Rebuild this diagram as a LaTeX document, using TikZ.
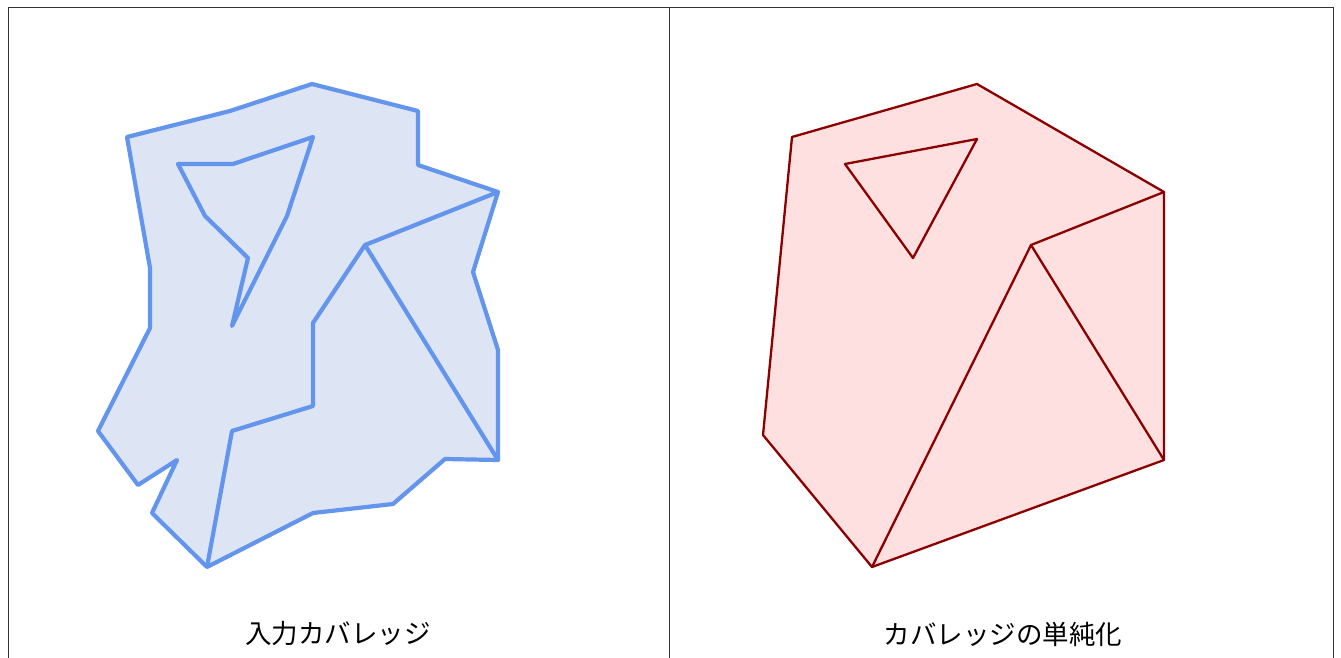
\documentclass[tikz,border=0pt]{standalone}
\usepackage{fontspec}
\newfontfamily\cjk{Noto Sans CJK JP}
\usetikzlibrary{positioning}
\definecolor{EdgeBlue}{HTML}{6495ED}
\definecolor{FillBlue}{HTML}{DDE5F5}
\definecolor{EdgeRed}{HTML}{8B0000}
\definecolor{FillRed}{HTML}{FFE0E0}
\definecolor{FrameGray}{HTML}{333333}

\begin{document}
\begin{tikzpicture}[
    x=1pt, y=-1pt,
    frame/.style={draw=FrameGray, line width=1pt},
    inputcov/.style={draw=EdgeBlue, line width=4.2pt, line join=round},
    inputfill/.style={fill=FillBlue},
    simplecov/.style={draw=EdgeRed, line width=2.3pt, line join=round},
    simplefill/.style={fill=FillRed},
    caption/.style={font=\cjk\fontsize{26.5}{30}\selectfont, inner sep=0pt}
  ]
    \useasboundingbox (0,0) rectangle (1341,658);

    % panel frame
    \draw[frame] (8,658) -- (8,8) -- (1333,8) -- (1333,658);
    \draw[frame] (669,8) -- (669,658);

    % input coverage
    \fill[inputfill]
      (127,137) -- (230,111) -- (312,84) -- (418,111) -- (418,165)
      -- (498,192) -- (473,272) -- (498,350) -- (498,460) -- (445,459)
      -- (393,504) -- (313,513) -- (207,567) -- (152,513) -- (177,460)
      -- (138,485) -- (98,431) -- (150,328) -- (150,268) -- cycle;
    \draw[inputcov]
      (127,137) -- (230,111) -- (312,84) -- (418,111) -- (418,165)
      -- (498,192) -- (473,272) -- (498,350) -- (498,460) -- (445,459)
      -- (393,504) -- (313,513) -- (207,567) -- (152,513) -- (177,460)
      -- (138,485) -- (98,431) -- (150,328) -- (150,268) -- cycle;
    \draw[inputcov]
      (178,164) -- (233,164) -- (313,137) -- (287,216) -- (232,326)
      -- (248,258) -- (205,216) -- cycle;
    \draw[inputcov]
      (498,192) -- (365,245) -- (313,323) -- (313,406) -- (232,431) -- (207,567);
    \draw[inputcov] (365,245) -- (498,460);

    % simplified coverage
    \fill[simplefill]
      (792,137) -- (977,84) -- (1164,192) -- (1164,460) -- (872,567)
      -- (763,435) -- cycle;
    \draw[simplecov]
      (792,137) -- (977,84) -- (1164,192) -- (1164,460) -- (872,567)
      -- (763,435) -- cycle;
    \draw[simplecov] (845,164) -- (977,139) -- (913,258) -- cycle;
    \draw[simplecov] (1164,192) -- (1031,245) -- (872,567);
    \draw[simplecov] (1031,245) -- (1164,460);

    \node[caption] (inputlabel) at (338,634) {入力カバレッジ};
    \node[caption] (simplelabel) at (1003,634) {カバレッジの単純化};
  \end{tikzpicture}
\end{document}
